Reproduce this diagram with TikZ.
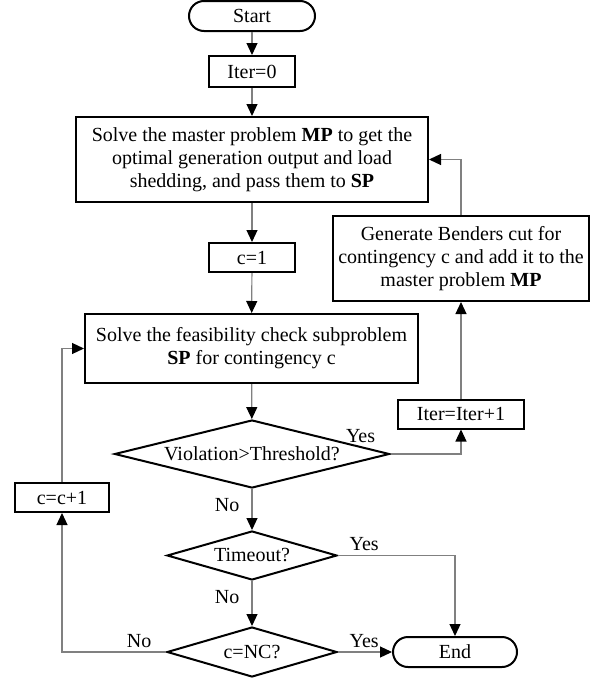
\documentclass[tikz,border=0pt]{standalone}
\usepackage{fontspec}
\setmainfont{Liberation Serif}
\usetikzlibrary{arrows.meta,shapes.geometric}

\begin{document}
\begin{tikzpicture}[x=0.5pt,y=-0.5pt,
    box/.style={draw,line width=1pt,align=center,inner sep=1pt,font=\fontsize{10pt}{11.5pt}\selectfont},
    term/.style={box,rounded corners=7.5pt},
    decision/.style={draw,line width=1pt,diamond,shape aspect=3.5,inner sep=0pt,font=\fontsize{10pt}{11.5pt}\selectfont},
    flow/.style={draw=gray,line width=0.6pt,-{Triangle[length=6pt,width=5.5pt,color=black]}},
    lab/.style={inner sep=0pt,font=\fontsize{10pt}{11.5pt}\selectfont}]
    \useasboundingbox (0,0) rectangle (598,680);

    \node[term,minimum width=63pt,minimum height=15pt] (start) at (252,16) {Start};
    \node[box,minimum width=43pt,minimum height=15.5pt] (iterzero) at (252,71.5) {Iter=0};
    \node[box,minimum width=176pt,minimum height=42.5pt] (master) at (252,159.5) {Solve the master problem \textbf{MP} to get the\\optimal generation output and load\\shedding, and pass them to \textbf{SP}};
    \node[box,minimum width=43pt,minimum height=14.5pt] (cone) at (252,257.5) {c=1};
    \node[box,minimum width=128pt,minimum height=42.5pt] (benders) at (461,258.5) {Generate Benders cut for\\contingency c and add it to the\\master problem \textbf{MP}};
    \node[box,minimum width=166.5pt,minimum height=34.5pt] (sub) at (251.5,348.5) {Solve the feasibility check subproblem\\\textbf{SP} for contingency c};
    \node[box,minimum width=63pt,minimum height=14.5pt] (iterinc) at (461,414) {Iter=Iter+1};
    \node[decision,shape aspect=4,minimum width=137.5pt,minimum height=34pt] (viol) at (252,454) {Violation>Threshold?};
    \node[decision,minimum width=85pt,minimum height=24.5pt] (timeout) at (252,555.5) {Timeout?};
    \node[decision,minimum width=85pt,minimum height=25pt] (cnc) at (252,652) {c=NC?};
    \node[term,minimum width=62pt,minimum height=15pt] (finish) at (455,652) {End};
    \node[box,minimum width=47pt,minimum height=14.5pt] (cinc) at (62,497.5) {c=c+1};

    \draw[flow] (start) -- (iterzero);
    \draw[flow] (iterzero) -- (master);
    \draw[flow] (master) -- (cone);
    \draw[flow] (cone) -- (sub);
    \draw[flow] (sub) -- (viol);
    \draw[flow] (viol.east) -| (iterinc.south);
    \node[lab,anchor=south east] (violyes) at ([xshift=-7.5pt,yshift=5.5pt]viol.east) {Yes};
    \draw[flow] (iterinc) -- (benders);
    \draw[flow] (benders.north) |- (master.east);
    \draw[flow] (viol) -- node[lab,pos=0.4,left=6pt]{No} (timeout);
    \draw[flow] (timeout.east) -| node[lab,pos=0,anchor=south west,xshift=5.5pt,yshift=2pt]{Yes} (finish.north);
    \draw[flow] (timeout) -- node[lab,pos=0.36,left=6pt]{No} (cnc);
    \draw[flow] (cnc) -- node[lab,pos=0,anchor=south west,xshift=5.5pt,yshift=2pt]{Yes} (finish);
    \draw[flow] (cnc.west) -| node[lab,pos=0,anchor=south east,xshift=-7pt,yshift=2pt]{No} (cinc.south);
    \draw[flow] (cinc.north) |- (sub.west);
\end{tikzpicture}
\end{document}
